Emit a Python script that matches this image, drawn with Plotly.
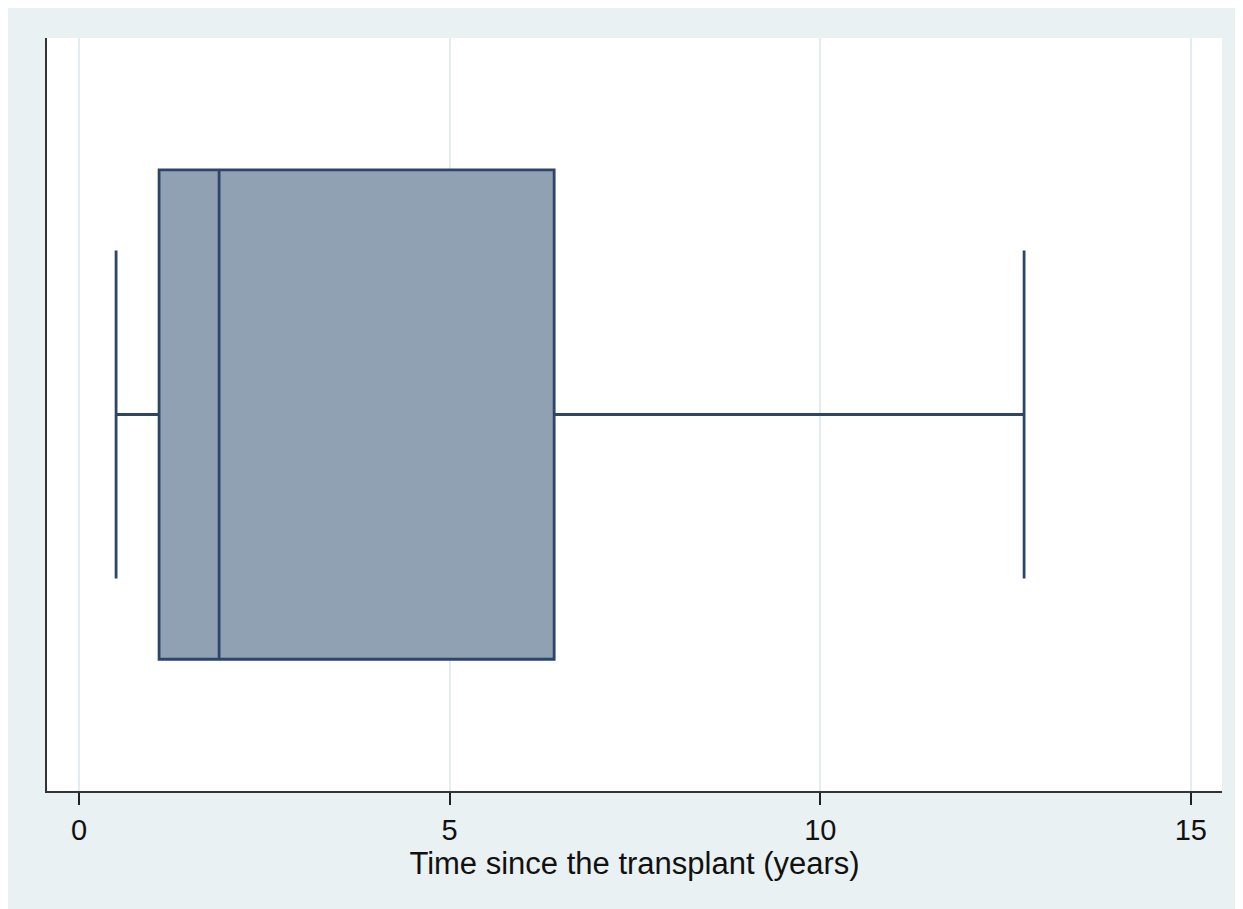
import plotly.graph_objects as go

# Box plot summary statistics (years)
q1 = [1.08]
median = [1.89]
q3 = [6.41]
lower_whisker = [0.50]
upper_whisker = [12.75]
tick_vals = [0, 5, 10, 15]
tick_text = ["0", "5", "10", "15"]
x_title = "Time since the transplant (years)"

BG = "#EAF1F3"
BOX_FILL = "#8FA1B3"
BOX_LINE = "#2D4668"

fig = go.Figure()
fig.add_trace(go.Box(
    y=[0],
    q1=q1, median=median, q3=q3,
    lowerfence=lower_whisker, upperfence=upper_whisker,
    orientation="h",
    fillcolor=BOX_FILL,
    line=dict(color=BOX_LINE, width=2.8),
    width=0.65,
    whiskerwidth=0.67,
    boxpoints=False,
    hoverinfo="skip",
    showlegend=False,
))

fig.update_layout(
    width=1235, height=901,
    margin=dict(l=39, r=21, t=30, b=118),
    paper_bgcolor=BG,
    plot_bgcolor="white",
    font=dict(family="Liberation Sans, Arial, sans-serif", color="#111111"),
    xaxis=dict(
        range=[-0.432, 15.42],
        tickvals=tick_vals, ticktext=tick_text,
        ticks="outside", ticklen=12, tickwidth=2, tickcolor="#222222",
        tickfont=dict(size=29),
        showline=True, linecolor="#333333", linewidth=2,
        showgrid=True, gridcolor="#E3ECEF", gridwidth=1.5,
        zeroline=False,
        title=dict(text=x_title, font=dict(size=31), standoff=0),
    ),
    yaxis=dict(
        range=[-0.5, 0.5],
        showticklabels=False, ticks="",
        showline=True, linecolor="#333333", linewidth=2,
        showgrid=False, zeroline=False,
    ),
)

fig.write_html("out.html")
